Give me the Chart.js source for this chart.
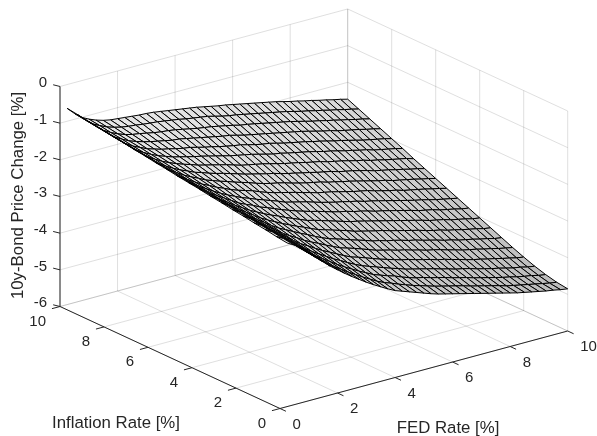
<!DOCTYPE html>
<html>
<head>
<meta charset="utf-8">
<title>10y-Bond Price Change</title>
<script src="https://cdn.jsdelivr.net/npm/chart.js@4"></script>
<style>
  html, body { margin: 0; padding: 0; background: #fff; }
  canvas { display: block; }
</style>
</head>
<body>
<canvas id="myChart" width="597" height="436"></canvas>
<script>
// Axis ticks
const fedTicks = [0, 2, 4, 6, 8, 10];
const inflationTicks = [0, 2, 4, 6, 8, 10];
const priceTicks = [0, -1, -2, -3, -4, -5, -6];

// Mesh positions
const fedRates = [0.25, 0.5, 0.75, 1, 1.25, 1.5, 1.75, 2, 2.25, 2.5, 2.75, 3, 3.25, 3.5, 3.75, 4, 4.25, 4.5, 4.75, 5,
  5.25, 5.5, 5.75, 6, 6.25, 6.5, 6.75, 7, 7.25, 7.5, 7.75, 8, 8.25, 8.5, 8.75, 9, 9.25, 9.5, 9.75, 10];
const inflationRates = [0, 0.5, 1, 1.5, 2, 2.5, 3, 3.5, 4, 4.5, 5, 5.5, 6, 6.5, 7, 7.5, 8, 8.5, 9, 9.5, 10];

// Price change: one row per FED rate, one value per inflation rate
const priceChange = [
  [-1.54,-1.50,-1.45,-1.41,-1.36,-1.32,-1.27,-1.23,-1.18,-1.14,-1.10,-1.05,-1.01,-0.96,-0.92,-0.87,-0.83,-0.78,-0.74,-0.69,-0.65],
  [-1.65,-1.61,-1.57,-1.53,-1.49,-1.45,-1.41,-1.37,-1.33,-1.29,-1.25,-1.20,-1.16,-1.12,-1.08,-1.04,-1.00,-0.96,-0.92,-0.88,-0.84],
  [-1.80,-1.76,-1.72,-1.68,-1.64,-1.60,-1.56,-1.52,-1.48,-1.44,-1.40,-1.36,-1.32,-1.28,-1.24,-1.20,-1.16,-1.12,-1.08,-1.04,-1.00],
  [-1.98,-1.94,-1.89,-1.85,-1.80,-1.76,-1.72,-1.67,-1.63,-1.58,-1.54,-1.50,-1.45,-1.41,-1.36,-1.32,-1.28,-1.23,-1.19,-1.14,-1.10],
  [-2.15,-2.10,-2.05,-2.00,-1.96,-1.91,-1.86,-1.81,-1.76,-1.71,-1.66,-1.62,-1.57,-1.52,-1.47,-1.42,-1.37,-1.33,-1.28,-1.23,-1.18],
  [-2.32,-2.27,-2.21,-2.16,-2.10,-2.05,-2.00,-1.94,-1.89,-1.83,-1.78,-1.73,-1.67,-1.62,-1.56,-1.51,-1.46,-1.40,-1.35,-1.29,-1.24],
  [-2.49,-2.43,-2.37,-2.31,-2.25,-2.19,-2.13,-2.07,-2.01,-1.95,-1.89,-1.82,-1.76,-1.70,-1.64,-1.58,-1.52,-1.46,-1.40,-1.34,-1.28],
  [-2.64,-2.59,-2.54,-2.47,-2.40,-2.34,-2.27,-2.20,-2.13,-2.07,-1.99,-1.92,-1.86,-1.79,-1.71,-1.65,-1.58,-1.51,-1.43,-1.37,-1.30],
  [-2.79,-2.74,-2.67,-2.61,-2.54,-2.46,-2.39,-2.31,-2.23,-2.16,-2.08,-2.00,-1.93,-1.85,-1.77,-1.70,-1.62,-1.55,-1.47,-1.39,-1.32],
  [-2.93,-2.87,-2.80,-2.73,-2.65,-2.57,-2.49,-2.41,-2.33,-2.24,-2.17,-2.09,-2.00,-1.92,-1.84,-1.75,-1.67,-1.59,-1.51,-1.42,-1.34],
  [-3.06,-3.00,-2.93,-2.85,-2.77,-2.69,-2.59,-2.51,-2.42,-2.34,-2.24,-2.16,-2.06,-1.98,-1.89,-1.80,-1.71,-1.63,-1.54,-1.44,-1.36],
  [-3.19,-3.12,-3.05,-2.97,-2.88,-2.79,-2.69,-2.60,-2.50,-2.41,-2.32,-2.22,-2.13,-2.03,-1.94,-1.84,-1.74,-1.65,-1.56,-1.46,-1.37],
  [-3.31,-3.24,-3.16,-3.07,-2.98,-2.88,-2.78,-2.69,-2.59,-2.49,-2.39,-2.28,-2.19,-2.09,-1.99,-1.89,-1.79,-1.69,-1.59,-1.49,-1.39],
  [-3.42,-3.35,-3.27,-3.18,-3.08,-2.98,-2.88,-2.77,-2.67,-2.57,-2.46,-2.36,-2.25,-2.15,-2.04,-1.94,-1.84,-1.73,-1.63,-1.52,-1.42],
  [-3.53,-3.46,-3.37,-3.28,-3.18,-3.07,-2.97,-2.86,-2.75,-2.64,-2.53,-2.43,-2.32,-2.21,-2.10,-1.99,-1.88,-1.77,-1.67,-1.55,-1.45],
  [-3.63,-3.55,-3.47,-3.37,-3.27,-3.16,-3.05,-2.94,-2.83,-2.71,-2.61,-2.49,-2.38,-2.26,-2.16,-2.04,-1.93,-1.81,-1.71,-1.59,-1.48],
  [-3.70,-3.62,-3.54,-3.44,-3.33,-3.22,-3.11,-3.00,-2.88,-2.77,-2.66,-2.54,-2.43,-2.31,-2.20,-2.08,-1.97,-1.85,-1.74,-1.62,-1.51],
  [-3.77,-3.70,-3.61,-3.51,-3.40,-3.28,-3.17,-3.06,-2.94,-2.83,-2.71,-2.59,-2.47,-2.36,-2.24,-2.12,-2.01,-1.89,-1.77,-1.65,-1.54],
  [-3.84,-3.77,-3.67,-3.58,-3.47,-3.35,-3.24,-3.12,-3.00,-2.88,-2.76,-2.64,-2.52,-2.40,-2.28,-2.16,-2.04,-1.92,-1.81,-1.68,-1.57],
  [-3.91,-3.84,-3.75,-3.65,-3.54,-3.42,-3.30,-3.18,-3.06,-2.94,-2.82,-2.70,-2.58,-2.46,-2.33,-2.21,-2.09,-1.97,-1.85,-1.73,-1.61],
  [-3.98,-3.90,-3.82,-3.71,-3.60,-3.49,-3.36,-3.25,-3.12,-3.00,-2.88,-2.75,-2.63,-2.51,-2.38,-2.26,-2.14,-2.02,-1.89,-1.78,-1.65],
  [-4.04,-3.96,-3.88,-3.78,-3.66,-3.54,-3.43,-3.30,-3.18,-3.05,-2.93,-2.81,-2.68,-2.55,-2.43,-2.31,-2.18,-2.06,-1.94,-1.82,-1.69],
  [-4.09,-4.02,-3.92,-3.83,-3.72,-3.59,-3.47,-3.35,-3.22,-3.09,-2.98,-2.85,-2.72,-2.60,-2.47,-2.34,-2.21,-2.10,-1.97,-1.85,-1.72],
  [-4.14,-4.07,-3.98,-3.88,-3.76,-3.65,-3.53,-3.40,-3.27,-3.15,-3.02,-2.89,-2.76,-2.64,-2.51,-2.39,-2.26,-2.14,-2.01,-1.89,-1.76],
  [-4.19,-4.12,-4.03,-3.93,-3.82,-3.69,-3.57,-3.44,-3.32,-3.19,-3.07,-2.94,-2.82,-2.69,-2.56,-2.43,-2.31,-2.18,-2.05,-1.93,-1.80],
  [-4.24,-4.17,-4.08,-3.98,-3.87,-3.75,-3.62,-3.50,-3.37,-3.24,-3.11,-2.99,-2.86,-2.73,-2.60,-2.47,-2.35,-2.22,-2.09,-1.97,-1.84],
  [-4.29,-4.22,-4.14,-4.04,-3.92,-3.80,-3.68,-3.55,-3.42,-3.30,-3.17,-3.04,-2.91,-2.77,-2.64,-2.51,-2.39,-2.26,-2.13,-2.01,-1.88],
  [-4.34,-4.28,-4.19,-4.09,-3.98,-3.86,-3.72,-3.60,-3.47,-3.34,-3.21,-3.08,-2.95,-2.83,-2.70,-2.56,-2.43,-2.30,-2.17,-2.05,-1.92],
  [-4.39,-4.33,-4.24,-4.15,-4.02,-3.90,-3.78,-3.65,-3.52,-3.39,-3.26,-3.12,-3.00,-2.87,-2.74,-2.61,-2.48,-2.34,-2.21,-2.09,-1.96],
  [-4.44,-4.38,-4.30,-4.19,-4.08,-3.95,-3.83,-3.70,-3.57,-3.44,-3.31,-3.18,-3.05,-2.91,-2.78,-2.65,-2.52,-2.39,-2.26,-2.13,-2.00],
  [-4.49,-4.43,-4.35,-4.24,-4.13,-4.01,-3.88,-3.76,-3.62,-3.49,-3.36,-3.23,-3.10,-2.96,-2.83,-2.70,-2.57,-2.44,-2.31,-2.18,-2.05],
  [-4.54,-4.48,-4.40,-4.30,-4.19,-4.06,-3.94,-3.81,-3.67,-3.54,-3.41,-3.28,-3.15,-3.01,-2.88,-2.75,-2.62,-2.49,-2.36,-2.23,-2.10],
  [-4.59,-4.54,-4.45,-4.35,-4.24,-4.12,-3.98,-3.85,-3.73,-3.60,-3.46,-3.32,-3.19,-3.07,-2.92,-2.79,-2.66,-2.53,-2.40,-2.27,-2.14],
  [-4.63,-4.58,-4.50,-4.40,-4.28,-4.16,-4.04,-3.91,-3.77,-3.64,-3.51,-3.38,-3.25,-3.11,-2.98,-2.84,-2.71,-2.59,-2.45,-2.32,-2.19],
  [-4.67,-4.62,-4.54,-4.44,-4.33,-4.20,-4.08,-3.95,-3.81,-3.68,-3.55,-3.42,-3.29,-3.15,-3.02,-2.88,-2.76,-2.63,-2.49,-2.36,-2.23],
  [-4.71,-4.66,-4.59,-4.49,-4.37,-4.25,-4.12,-4.00,-3.87,-3.74,-3.60,-3.46,-3.33,-3.20,-3.07,-2.94,-2.81,-2.67,-2.54,-2.41,-2.28],
  [-4.75,-4.70,-4.63,-4.54,-4.42,-4.29,-4.17,-4.04,-3.91,-3.78,-3.65,-3.50,-3.37,-3.24,-3.11,-2.98,-2.85,-2.71,-2.58,-2.45,-2.32],
  [-4.78,-4.74,-4.66,-4.57,-4.46,-4.34,-4.21,-4.08,-3.95,-3.82,-3.69,-3.55,-3.42,-3.29,-3.15,-3.02,-2.89,-2.76,-2.63,-2.50,-2.37],
  [-4.82,-4.78,-4.71,-4.62,-4.51,-4.38,-4.26,-4.13,-4.00,-3.87,-3.73,-3.59,-3.46,-3.33,-3.19,-3.06,-2.93,-2.80,-2.67,-2.54,-2.41],
  [-4.85,-4.81,-4.74,-4.65,-4.54,-4.42,-4.29,-4.16,-4.03,-3.90,-3.77,-3.64,-3.51,-3.38,-3.25,-3.11,-2.98,-2.85,-2.72,-2.59,-2.46],
];

const axisColor = "#262626";
const gridColor = "rgba(38, 38, 38, 0.15)";
const fontFamily = "'Liberation Sans', sans-serif";

// Orthographic view: each data unit moves this far on the page scales
function project(fed, infl, price) {
  return {
    x: 280 + 28.77 * fed - 22 * infl,
    y: 408.5 - 7.75 * fed - 10.2 * infl - 36.67 * (price + 6),
  };
}

function segment(a, b, color, width) {
  return {
    data: [project(a[0], a[1], a[2]), project(b[0], b[1], b[2])],
    borderColor: color,
    borderWidth: width,
    fill: false,
  };
}

// Chart.js paints the last dataset first, so nearest things go in first
const datasets = [];

// Surface patches
for (let i = 0; i < fedRates.length - 1; i++) {
  for (let j = 0; j < inflationRates.length - 1; j++) {
    const corners = [[i, j], [i + 1, j], [i + 1, j + 1], [i, j + 1], [i, j]];
    const mean = (priceChange[i][j] + priceChange[i + 1][j] + priceChange[i + 1][j + 1] + priceChange[i][j + 1]) / 4;
    const shade = Math.round(188 + ((mean + 4.85) / 4.2) * 50);
    datasets.push({
      data: corners.map(([a, b]) => project(fedRates[a], inflationRates[b], priceChange[a][b])),
      borderColor: "#000",
      borderWidth: 1,
      backgroundColor: `rgb(${shade}, ${shade}, ${shade})`,
      fill: "shape",
    });
  }
}

// Axis lines and ticks
datasets.push(segment([0, 10, -6], [0, 10, 0], axisColor, 1));
datasets.push(segment([0, 10, -6], [0, 0, -6], axisColor, 1));
datasets.push(segment([0, 0, -6], [10, 0, -6], axisColor, 1));
fedTicks.forEach((t) => datasets.push(segment([t, 0, -6], [t, -0.27, -6], axisColor, 1)));
inflationTicks.forEach((t) => datasets.push(segment([0, t, -6], [-0.28, t, -6], axisColor, 1)));
priceTicks.forEach((t) => datasets.push(segment([0, 10, t], [-0.07, 10.22, t], axisColor, 1)));

// Grid on the floor and the two back walls
fedTicks.forEach((t) => {
  datasets.push(segment([t, 0, -6], [t, 10, -6], gridColor, 1));
  datasets.push(segment([t, 10, -6], [t, 10, 0], gridColor, 1));
});
inflationTicks.forEach((t) => {
  datasets.push(segment([0, t, -6], [10, t, -6], gridColor, 1));
  datasets.push(segment([10, t, -6], [10, t, 0], gridColor, 1));
});
priceTicks.forEach((t) => {
  datasets.push(segment([0, 10, t], [10, 10, t], gridColor, 1));
  datasets.push(segment([10, 10, t], [10, 0, t], gridColor, 1));
});

// Tick labels and axis titles, placed through the chart's scales
const axisText = {
  id: "axisText",
  afterDraw(chart) {
    const { ctx, scales } = chart;
    const put = (text, pos, dx, dy, align) => {
      ctx.textAlign = align;
      ctx.fillText(text, scales.x.getPixelForValue(pos.x) + dx, scales.y.getPixelForValue(pos.y) + dy);
    };
    ctx.save();
    ctx.fillStyle = axisColor;
    ctx.textBaseline = "middle";
    ctx.font = `15px ${fontFamily}`;
    priceTicks.forEach((t) => put(String(t), project(0, 10, t), -13, -3.3, "right"));
    inflationTicks.forEach((t) => put(String(t), project(0, t, -6), -14, 15, "right"));
    fedTicks.forEach((t) => put(String(t), project(t, 0, -6), 12.5, 16, "left"));

    ctx.font = `16.8px ${fontFamily}`;
    ctx.textAlign = "center";
    ctx.fillText("Inflation Rate [%]", 116, 423);
    ctx.fillText("FED Rate [%]", 448, 428);
    ctx.translate(18, 195.5);
    ctx.rotate(-Math.PI / 2);
    ctx.fillText("10y-Bond Price Change [%]", 0, 0);
    ctx.restore();
  },
};

const ctx = document.getElementById("myChart").getContext("2d");

const myChart = new Chart(ctx, {
  type: "scatter",
  data: { datasets },
  options: {
    responsive: false,
    animation: false,
    showLine: true,
    elements: { point: { radius: 0 }, line: { tension: 0 } },
    layout: { padding: 0 },
    scales: {
      x: { type: "linear", min: 0, max: 597, display: false },
      y: { type: "linear", min: 0, max: 436, reverse: true, display: false },
    },
    plugins: { legend: { display: false }, tooltip: { enabled: false } },
  },
  plugins: [axisText],
});
</script>
</body>
</html>
